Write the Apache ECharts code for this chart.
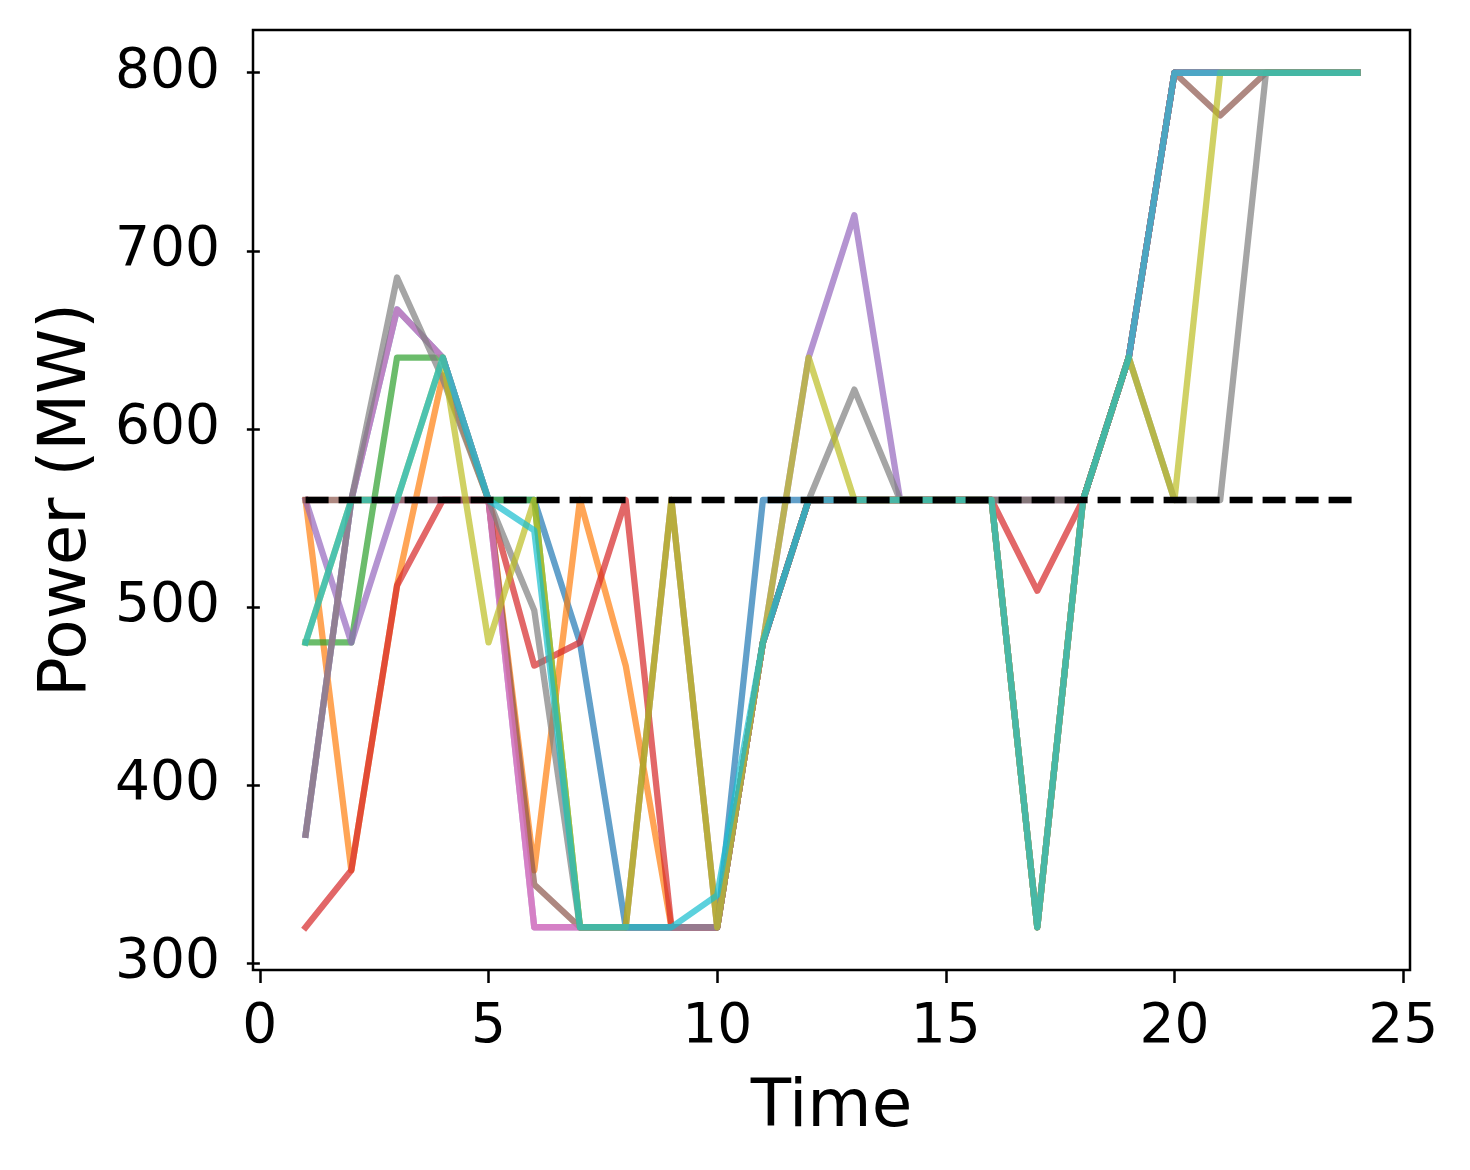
<!DOCTYPE html>
<html>
<head>
<meta charset="utf-8">
<script src="https://cdn.jsdelivr.net/npm/echarts@6/dist/echarts.min.js"></script>
<style>
html,body{margin:0;padding:0;background:#fff;}
#chart{width:1470px;height:1170px;}
</style>
</head>
<body>
<div id="chart"></div>
<script>
const times = [1,2,3,4,5,6,7,8,9,10,11,12,13,14,15,16,17,18,19,20,21,22,23,24];
const xTicks = [0,5,10,15,20,25];
const yTicks = [300,400,500,600,700,800];

const s0 = [372,560,667,640,560,560,480,320,320,320,560,560,560,560,560,560,320,560,640,800,800,800,800,800];
const s1 = [560,352,512,630,560,352,560,467,320,320,480,560,560,560,560,560,320,560,640,800,800,800,800,800];
const s2 = [480,480,640,640,560,560,320,320,320,320,480,560,560,560,560,560,320,560,640,800,800,800,800,800];
const s3 = [320,352,512,560,560,467,480,560,320,320,480,560,560,560,560,560,509,560,640,800,800,800,800,800];
const s4 = [560,480,560,560,560,320,320,320,320,320,480,640,720,560,560,560,560,560,640,800,800,800,800,800];
const s5 = [560,560,560,560,560,344,320,320,560,320,480,560,560,560,560,560,560,560,640,800,776,800,800,800];
const s6 = [372,560,667,640,560,320,320,320,320,320,480,560,560,560,560,560,320,560,640,800,800,800,800,800];
const s7 = [372,560,685,628,560,498,320,320,320,320,480,560,622,560,560,560,560,560,640,560,560,800,800,800];
const s8 = [480,560,560,640,480,560,320,320,560,320,480,640,560,560,560,560,320,560,640,560,800,800,800,800];
const s9 = [480,560,560,640,560,543,320,320,320,338,480,560,560,560,560,560,320,560,640,800,800,800,800,800];
const reference = [560,560,560,560,560,560,560,560,560,560,560,560,560,560,560,560,560,560,560,560,560,560,560,560];

const seriesValues = [s0,s1,s2,s3,s4,s5,s6,s7,s8,s9];
const colors = ['#1f77b4','#ff7f0e','#2ca02c','#d62728','#9467bd','#8c564b','#e377c2','#7f7f7f','#bcbd22','#17becf'];

const FONT = 'DejaVu Sans';
const toPairs = vals => times.map((t,i)=>[t, vals[i]]);

const series = seriesValues.map((vals, i) => ({
  type: 'line',
  data: toPairs(vals),
  showSymbol: false,
  silent: true,
  lineStyle: { color: colors[i], width: 6.3, opacity: 0.7, join: 'round', cap: 'square' }
}));
series.push({
  type: 'line',
  data: toPairs(reference),
  showSymbol: false,
  silent: true,
  lineStyle: { color: '#000', width: 6.3, type: [23, 10], cap: 'butt' }
});

const chart = echarts.init(document.getElementById('chart'), null, {renderer: 'canvas'});
chart.setOption({
  animation: false,
  backgroundColor: '#fff',
  grid: {
    left: 253, top: 30, width: 1157, height: 940,
    show: true, borderColor: '#000', borderWidth: 2.5, backgroundColor: 'transparent',
    outerBoundsMode: 'none', containLabel: false
  },
  xAxis: {
    type: 'value', min: -0.15, max: 25.15,
    name: 'Time', nameLocation: 'middle', nameGap: 106,
    nameTextStyle: { fontFamily: FONT, fontSize: 66, color: '#000' },
    axisLine: { show: false },
    splitLine: { show: false },
    axisTick: { show: true, inside: false, length: 13, customValues: xTicks, lineStyle: { color: '#000', width: 2.5 } },
    axisLabel: { fontFamily: FONT, fontSize: 55, color: '#000', margin: 30, customValues: xTicks,
      formatter: v => String(v) }
  },
  yAxis: {
    type: 'value', min: 296, max: 824,
    name: 'Power (MW)', nameLocation: 'middle', nameGap: 152, nameRotate: 90,
    nameTextStyle: { fontFamily: FONT, fontSize: 66, color: '#000' },
    axisLine: { show: false },
    splitLine: { show: false },
    axisTick: { show: true, inside: false, length: 13, customValues: yTicks, lineStyle: { color: '#000', width: 2.5 } },
    axisLabel: { fontFamily: FONT, fontSize: 55, color: '#000', margin: 33, customValues: yTicks,
      formatter: v => String(v) }
  },
  series: series
});
</script>
</body>
</html>
